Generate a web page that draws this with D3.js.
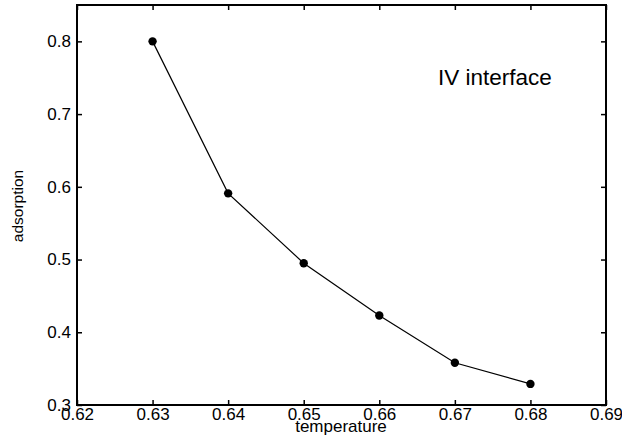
<!DOCTYPE html>
<html>
<head>
<meta charset="utf-8">
<script src="https://cdn.jsdelivr.net/npm/d3@7"></script>
<style>
  html, body { margin: 0; padding: 0; background: #fff; }
  text { font-family: "Liberation Sans", Arial, Helvetica, sans-serif; fill: #000; }
</style>
</head>
<body>
<svg id="chart" width="622" height="439"></svg>
<script>
// Adsorption at the IV interface versus temperature
const temperature = [0.63, 0.64, 0.65, 0.66, 0.67, 0.68];
const adsorption  = [0.800, 0.591, 0.495, 0.423, 0.358, 0.329];
const xTicks = [0.62, 0.63, 0.64, 0.65, 0.66, 0.67, 0.68, 0.69];
const yTicks = [0.3, 0.4, 0.5, 0.6, 0.7, 0.8];

(function () {
  const svg = d3.select("#chart");
  const mLeft = 77, mRight = 606, mTop = 5, mBottom = 405;

  const x = d3.scaleLinear().domain([0.62, 0.69]).range([mLeft, mRight]);
  const y = d3.scaleLinear().domain([0.3, 0.85]).range([mBottom, mTop]);

  const tickLen = 5;

  // frame
  svg.append("rect")
    .attr("x", mLeft).attr("y", mTop)
    .attr("width", mRight - mLeft).attr("height", mBottom - mTop)
    .attr("fill", "none").attr("stroke", "#000").attr("stroke-width", 2);

  // inward ticks on all four sides
  const axB = d3.axisBottom(x).tickValues(xTicks).tickSize(-tickLen).tickPadding(3).tickFormat(d3.format(".2f"));
  const axT = d3.axisTop(x).tickValues(xTicks).tickSize(-tickLen).tickFormat("");
  const axL = d3.axisLeft(y).tickValues(yTicks).tickSize(-tickLen).tickPadding(6).tickFormat(d3.format(".1f"));
  const axR = d3.axisRight(y).tickValues(yTicks).tickSize(-tickLen).tickFormat("");

  function style(g) {
    g.select(".domain").remove();
    g.selectAll(".tick line").attr("stroke", "#000").attr("stroke-width", 1.5);
    g.selectAll(".tick text").attr("font-size", 17).attr("font-family", "Liberation Sans, Arial, sans-serif");
  }

  svg.append("g").attr("transform", `translate(0,${mBottom})`).call(axB).call(style);
  svg.append("g").attr("transform", `translate(0,${mTop})`).call(axT).call(style);
  svg.append("g").attr("transform", `translate(${mLeft},0)`).call(axL).call(style);
  svg.append("g").attr("transform", `translate(${mRight},0)`).call(axR).call(style);

  // series
  const pts = temperature.map((t, i) => [t, adsorption[i]]);
  svg.append("path")
    .datum(pts)
    .attr("fill", "none").attr("stroke", "#000").attr("stroke-width", 1.2)
    .attr("d", d3.line().x(d => x(d[0])).y(d => y(d[1])));

  svg.selectAll("circle.pt").data(pts).enter().append("circle")
    .attr("class", "pt")
    .attr("cx", d => x(d[0])).attr("cy", d => y(d[1]))
    .attr("r", 4.2).attr("fill", "#000");

  // labels
  svg.append("text")
    .attr("x", 341).attr("y", 432)
    .attr("text-anchor", "middle").attr("font-size", 17)
    .text("temperature");

  svg.append("text")
    .attr("transform", "translate(23,206) rotate(-90)")
    .attr("text-anchor", "middle").attr("font-size", 15.5)
    .text("adsorption");

  svg.append("text")
    .attr("x", 438).attr("y", 85)
    .attr("font-size", 22.5)
    .text("IV interface");
})();
</script>
</body>
</html>
